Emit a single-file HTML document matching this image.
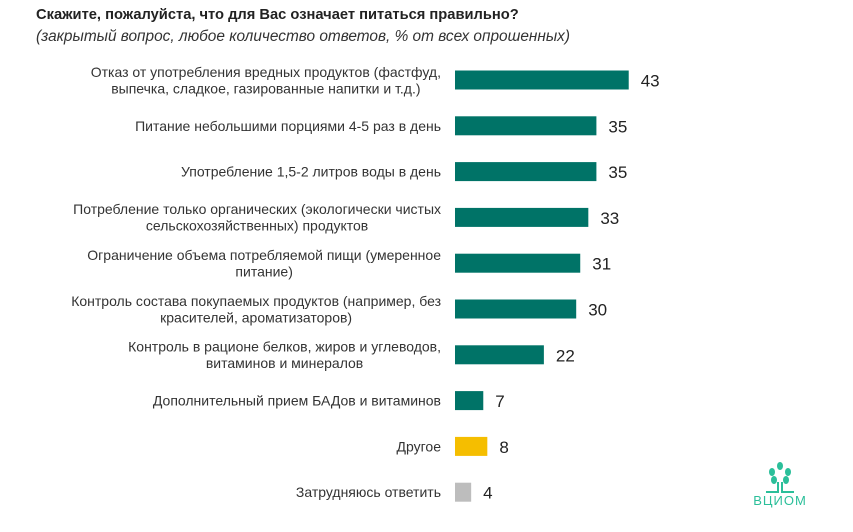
<!DOCTYPE html>
<html><head><meta charset="utf-8"><style>
body{margin:0;width:853px;height:532px;background:#fff;font-family:"Liberation Sans",sans-serif;position:relative;overflow:hidden}
#title{position:absolute;left:36px;top:7px;font-size:14.7px;font-weight:bold;color:#222}
#sub{position:absolute;left:36px;top:28px;font-size:15.4px;font-style:italic;color:#333}
svg{position:absolute;left:0;top:0}
</style></head><body>
<div id="title">Скажите, пожалуйста, что для Вас означает питаться правильно?</div>
<div id="sub">(закрытый вопрос, любое количество ответов, % от всех опрошенных)</div>
<svg id="c" width="853" height="532"></svg>
<script>
const categories=[
["Отказ от употребления вредных продуктов (фастфуд,","выпечка, сладкое, газированные напитки и т.д.)"],
["Питание небольшими порциями 4-5 раз в день"],
["Употребление 1,5-2 литров воды в день"],
["Потребление только органических (экологически чистых","сельскохозяйственных) продуктов"],
["Ограничение объема потребляемой пищи (умеренное","питание)"],
["Контроль состава покупаемых продуктов (например, без","красителей, ароматизаторов)"],
["Контроль в рационе белков, жиров и углеводов,","витаминов и минералов"],
["Дополнительный прием БАДов и витаминов"],
["Другое"],
["Затрудняюсь ответить"]];
const values=[43,35,35,33,31,30,22,7,8,4];
const colors=["#007367","#007367","#007367","#007367","#007367","#007367","#007367","#007367","#F5BE00","#BDBDBD"];
const NS="http://www.w3.org/2000/svg",svg=document.getElementById('c');
const x=v=>455+v*4.04, y=i=>80+i*45.8;
function mk(t,a){const e=document.createElementNS(NS,t);for(const k in a)e.setAttribute(k,a[k]);svg.appendChild(e);return e;}
values.forEach((v,i)=>{
 const r=mk('rect',{x:455,y:y(i)-9.5,width:x(v)-455,height:19,fill:colors[i]});
 
 
 const t=mk('text',{x:x(v)+12,y:y(i)+6.5,'font-size':17,fill:'#222'});t.textContent=v;
 
 
 const lines=categories[i];
 const els=lines.map((l,j)=>{
  const ty=y(i)+5+(j-(lines.length-1)/2)*16.5;
  const c=mk('text',{x:441,y:ty,'font-size':14,fill:'#333','text-anchor':'middle'});c.textContent=l;
  
  
  return c;
 });
 const mw=Math.max(...els.map(e=>e.getComputedTextLength()));
 els.forEach(e=>e.setAttribute('x',441-mw/2));
});
// logo
const g=mk('g',{stroke:'#2BBF9A',fill:'none','stroke-width':2});


[[780,466],[772,472],[788,472],[774,480],[786,480]].forEach(p=>{const e=document.createElementNS(NS,'ellipse');e.setAttribute('cx',p[0]);e.setAttribute('cy',p[1]);e.setAttribute('rx',3);e.setAttribute('ry',4);e.setAttribute('fill','#2BBF9A');e.setAttribute('stroke','none');g.appendChild(e);});
const p=document.createElementNS(NS,'path');p.setAttribute('d','M766 492 H778 V482 M794 492 H782 V482');g.appendChild(p);
const lt=mk('text',{x:780,y:505,'font-size':13,fill:'#2BBF9A','text-anchor':'middle','letter-spacing':1});lt.textContent='ВЦИОМ';


</script>
</body></html>
